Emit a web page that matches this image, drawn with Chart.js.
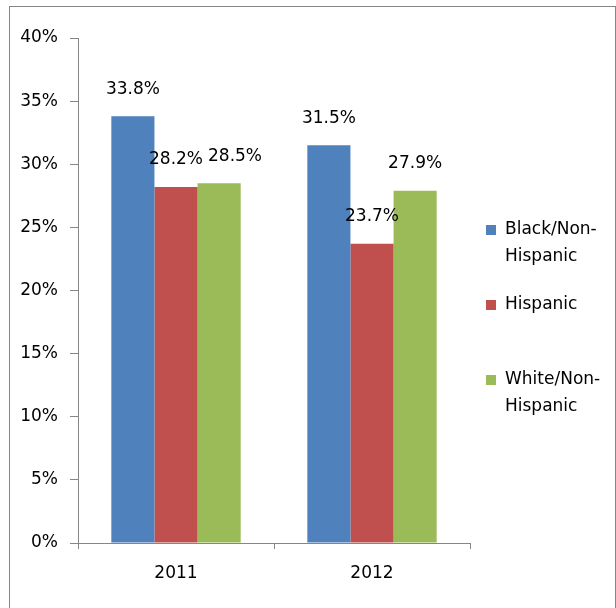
<!DOCTYPE html>
<html>
<head>
<meta charset="utf-8">
<script src="https://cdn.jsdelivr.net/npm/chart.js@4/dist/chart.umd.min.js"></script>
<style>
    body { margin: 0; background: #fff; overflow: hidden; }
    #wrap { position: relative; width: 616px; height: 608px; overflow: hidden; }
    #frame { position: absolute; left: 9px; top: 6px; width: 605px; height: 610px; border: 1px solid #868686; }
    #chart { position: absolute; left: 0; top: 0; }
</style>
</head>
<body>
<div id="wrap">
    <div id="frame"></div>
    <canvas id="chart" width="616" height="608"></canvas>
</div>
<script>
// data
const years = ['2011', '2012'];
const seriesNames = ['Black/Non-Hispanic', 'Hispanic', 'White/Non-Hispanic'];
const blackValues = [33.8, 31.5];
const hispanicValues = [28.2, 23.7];
const whiteValues = [28.5, 27.9];
const seriesColors = ['#4F81BD', '#C0504D', '#9BBB59'];

const font = { family: 'DejaVu Sans', size: 17 };

// value labels above the bars, nudged right when they would collide
const barLabels = {
    id: 'barLabels',
    afterDatasetsDraw(chart) {
        const ctx = chart.ctx;
        ctx.save();
        ctx.font = '17px "DejaVu Sans"';
        ctx.fillStyle = '#000';
        ctx.textAlign = 'left';
        ctx.textBaseline = 'middle';
        chart.data.labels.forEach(function (lbl, j) {
            let prev = null;
            chart.data.datasets.forEach(function (ds, i) {
                const bar = chart.getDatasetMeta(i).data[j];
                const text = ds.data[j].toFixed(1) + '%';
                const w = ctx.measureText(text).width;
                let x = bar.x - w / 2;
                const y = bar.y - 27;
                if (prev && Math.abs(prev.y - y) < 18 && x < prev.right + 5) {
                    x = prev.right + 5;
                }
                ctx.fillText(text, x, y);
                prev = { right: x + w, y: y };
            });
        });
        ctx.restore();
    }
};

// legend on the right, names wrapped after the hyphen
const sideLegend = {
    id: 'sideLegend',
    afterDraw(chart) {
        const ctx = chart.ctx;
        ctx.save();
        ctx.font = '17px "DejaVu Sans"';
        ctx.textBaseline = 'middle';
        chart.data.datasets.forEach(function (ds, i) {
            const y = 230 + i * 75;
            ctx.fillStyle = ds.backgroundColor;
            ctx.fillRect(486, y - 5, 10, 10);
            ctx.fillStyle = '#000';
            const cut = ds.label.indexOf('-');
            const lines = cut > 0 ? [ds.label.slice(0, cut + 1), ds.label.slice(cut + 1)] : [ds.label];
            lines.forEach(function (line, k) {
                ctx.fillText(line, 505, y + k * 27);
            });
        });
        ctx.restore();
    }
};

const ctx = document.getElementById('chart').getContext('2d');
new Chart(ctx, {
    type: 'bar',
    data: {
        labels: years,
        datasets: [
            { label: seriesNames[0], data: blackValues, backgroundColor: seriesColors[0] },
            { label: seriesNames[1], data: hispanicValues, backgroundColor: seriesColors[1] },
            { label: seriesNames[2], data: whiteValues, backgroundColor: seriesColors[2] }
        ]
    },
    options: {
        responsive: false,
        animation: false,
        events: [],
        categoryPercentage: 0.66,
        barPercentage: 1,
        layout: { padding: { left: 0, top: 38, right: 146, bottom: 0 } },
        plugins: {
            legend: { display: false },
            tooltip: { enabled: false }
        },
        scales: {
            x: {
                afterFit: function (scale) { scale.height = 65; },
                border: { color: '#868686', width: 1 },
                grid: { offset: true, drawOnChartArea: false, drawTicks: true, tickLength: 6, color: '#868686' },
                ticks: { color: '#000', font: font, padding: 14 }
            },
            y: {
                min: 0,
                max: 40,
                afterFit: function (scale) { scale.width = 78; },
                border: { color: '#868686', width: 1 },
                grid: { drawOnChartArea: false, drawTicks: true, tickLength: 8, color: '#868686' },
                ticks: {
                    stepSize: 5,
                    color: '#000',
                    font: font,
                    padding: 12,
                    callback: function (v) { return v + '%'; }
                }
            }
        }
    },
    plugins: [barLabels, sideLegend]
});
</script>
</body>
</html>
